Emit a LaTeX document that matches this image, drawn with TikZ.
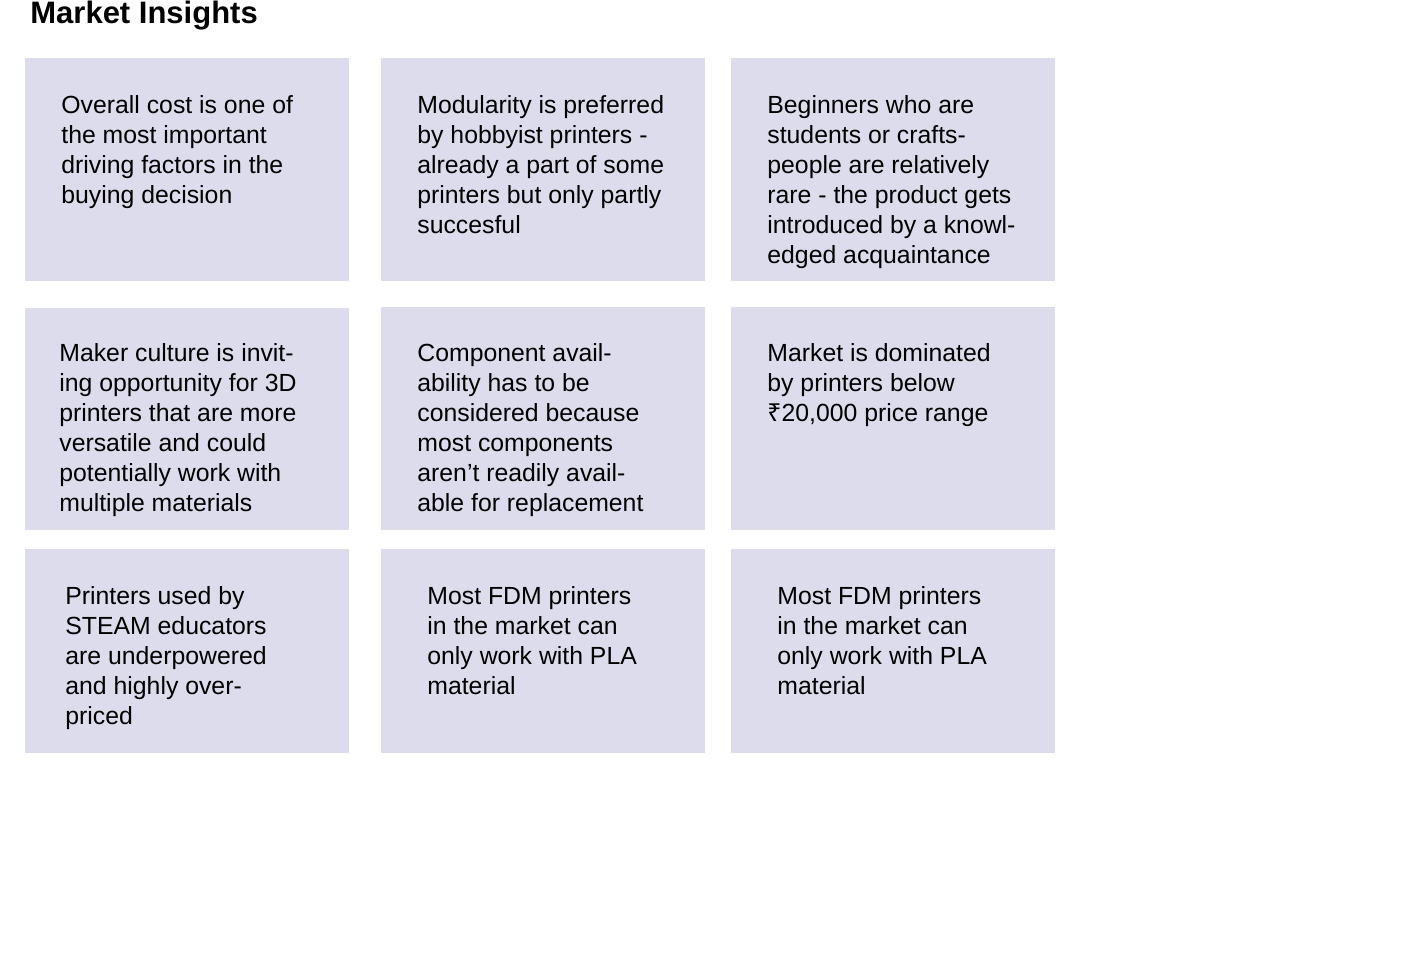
\documentclass[tikz,border=0pt]{standalone}
\usepackage{fontspec}
\setmainfont{Liberation Sans}
\newfontfamily\rupfont{Noto Sans}
\definecolor{boxfill}{RGB}{221,220,236}
\newcommand\mlines[1]{\vtop{#1}}
\begin{document}
\begin{tikzpicture}[x=0.5pt,y=-0.5pt,
  card/.style={fill=boxfill, draw=none, anchor=north west, inner sep=0pt, minimum width=162pt},
  txt/.style={anchor=base west, inner sep=0pt, font=\fontsize{12.4}{15}\selectfont},
  heading/.style={anchor=base west, inner sep=0pt, font=\fontsize{15.5}{18}\selectfont\bfseries}]
\useasboundingbox[fill=white] (0,0) rectangle (1414,978);
\node[heading] (title) at (30,24) {Market Insights};
% cards
\node[card, minimum height=111.5pt] (b1) at (25,58) {};
\node[card, minimum height=111.5pt] (b2) at (381,58) {};
\node[card, minimum height=111.5pt] (b3) at (731,58) {};
\node[card, minimum height=111pt] (b4) at (25,308) {};
\node[card, minimum height=111.5pt] (b5) at (381,307) {};
\node[card, minimum height=111.5pt] (b6) at (731,307) {};
\node[card, minimum height=102pt] (b7) at (25,549) {};
\node[card, minimum height=102pt] (b8) at (381,549) {};
\node[card, minimum height=102pt] (b9) at (731,549) {};
% texts
\node[txt] (t1) at (61,114) {\mlines{\hbox{Overall cost is one of}\hbox{the most important}\hbox{driving factors in the}\hbox{buying decision}}};
\node[txt] (t2) at (417,114) {\mlines{\hbox{Modularity is preferred}\hbox{by hobbyist printers -}\hbox{already a part of some}\hbox{printers but only partly}\hbox{succesful}}};
\node[txt] (t3) at (767,114) {\mlines{\hbox{Beginners who are}\hbox{students or crafts-}\hbox{people are relatively}\hbox{rare - the product gets}\hbox{introduced by a knowl-}\hbox{edged acquaintance}}};
\node[txt] (t4) at (59,362) {\mlines{\hbox{Maker culture is invit-}\hbox{ing opportunity for 3D}\hbox{printers that are more}\hbox{versatile and could}\hbox{potentially work with}\hbox{multiple materials}}};
\node[txt] (t5) at (417,362) {\mlines{\hbox{Component avail-}\hbox{ability has to be}\hbox{considered because}\hbox{most components}\hbox{aren’t readily avail-}\hbox{able for replacement}}};
\node[txt] (t6) at (767,362) {\mlines{\hbox{Market is dominated}\hbox{by printers below}\hbox{{\rupfont\bfseries ₹}20,000 price range}}};
\node[txt] (t7) at (65,604) {\mlines{\hbox{Printers used by}\hbox{STEAM educators}\hbox{are underpowered}\hbox{and highly over-}\hbox{priced}}};
\node[txt] (t8) at (427,604) {\mlines{\hbox{Most FDM printers}\hbox{in the market can}\hbox{only work with PLA}\hbox{material}}};
\node[txt] (t9) at (777,604) {\mlines{\hbox{Most FDM printers}\hbox{in the market can}\hbox{only work with PLA}\hbox{material}}};
\end{tikzpicture}
\end{document}
